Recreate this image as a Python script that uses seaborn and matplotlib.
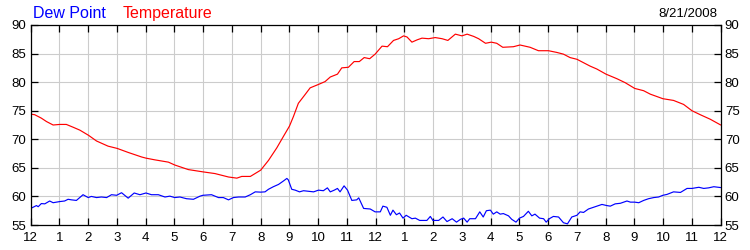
import matplotlib
matplotlib.use("Agg")
import matplotlib.pyplot as plt
import seaborn as sns
import pandas as pd

# Temperature (hours since midnight, deg F)
temp_hours = [0.00, 0.14, 0.37, 0.55, 0.78, 1.01, 1.24, 1.48, 1.71, 2.01, 2.29, 2.69, 3.01,
              3.39, 3.86, 4.01, 4.32, 4.79, 5.01, 5.48, 5.99, 6.41, 6.88, 7.17, 7.34, 7.64,
              8.00, 8.27, 8.56, 8.79, 9.00, 9.14, 9.31, 9.54, 9.72, 10.01, 10.24, 10.42,
              10.67, 10.82, 11.05, 11.25, 11.43, 11.60, 11.79, 11.98, 12.22, 12.41, 12.62,
              12.80, 12.97, 13.09, 13.26, 13.44, 13.61, 13.84, 14.07, 14.31, 14.51, 14.77,
              15.00, 15.18, 15.41, 15.58, 15.82, 16.02, 16.21, 16.42, 16.79, 17.02, 17.37,
              17.66, 18.01, 18.30, 18.53, 18.76, 19.00, 19.23, 19.46, 19.69, 20.01, 20.39,
              20.68, 21.01, 21.32, 21.55, 21.99, 22.36, 22.71, 23.00, 23.29, 23.64, 24.00]
temp_values = [74.4, 74.3, 73.7, 73.1, 72.5, 72.6, 72.6, 72.1, 71.6, 70.7, 69.7, 68.8, 68.4,
               67.7, 66.9, 66.7, 66.4, 66.0, 65.5, 64.7, 64.3, 64.0, 63.4, 63.2, 63.5, 63.5,
               64.6, 66.3, 68.5, 70.5, 72.3, 74.0, 76.3, 77.8, 79.0, 79.6, 80.1, 80.9,
               81.4, 82.5, 82.6, 83.6, 83.6, 84.3, 84.1, 84.9, 86.3, 86.2, 87.3,
               87.6, 88.1, 87.9, 87.0, 87.4, 87.7, 87.6, 87.8, 87.6, 87.3, 88.4,
               88.1, 88.4, 88.0, 87.6, 86.8, 87.0, 86.8, 86.1, 86.2, 86.5, 86.1,
               85.5, 85.5, 85.2, 84.9, 84.3, 84.0, 83.4, 82.8, 82.3, 81.4, 80.6,
               79.9, 78.9, 78.5, 77.9, 77.1, 76.8, 76.1, 75.0, 74.3, 73.5, 72.5]

# Dew point (hours since midnight, deg F)
dew_hours = [0.00, 0.08, 0.20, 0.26, 0.37, 0.49, 0.66, 0.78, 1.01, 1.18, 1.30, 1.42, 1.59,
             1.82, 2.00, 2.11, 2.29, 2.46, 2.64, 2.81, 2.99, 3.16, 3.39, 3.60, 3.80, 4.01,
             4.20, 4.44, 4.67, 4.84, 5.01, 5.19, 5.42, 5.66, 5.89, 5.99, 6.29, 6.53, 6.70,
             6.88, 7.05, 7.23, 7.46, 7.64, 7.81, 8.00, 8.15, 8.27, 8.44, 8.62, 8.79, 8.91,
             8.96, 9.08, 9.20, 9.35, 9.49, 9.66, 9.84, 10.01, 10.18, 10.32, 10.42, 10.56,
             10.67, 10.76, 10.90, 11.02, 11.17, 11.34, 11.41, 11.58, 11.81, 11.98, 12.16,
             12.25, 12.39, 12.51, 12.60, 12.72, 12.83, 12.95, 13.06, 13.26, 13.38, 13.53,
             13.78, 13.90, 13.99, 14.19, 14.34, 14.48, 14.66, 14.81, 14.95, 15.06, 15.18,
             15.27, 15.47, 15.62, 15.74, 15.85, 15.99, 16.09, 16.21, 16.33, 16.44, 16.62,
             16.73, 16.88, 17.00, 17.14, 17.31, 17.43, 17.54, 17.70, 17.84, 17.93, 18.04,
             18.18, 18.36, 18.53, 18.67, 18.82, 19.00, 19.11, 19.23, 19.40, 19.58, 19.70,
             19.87, 20.04, 20.16, 20.33, 20.51, 20.74, 20.86, 21.01, 21.15, 21.32, 21.49,
             21.67, 21.84, 21.99, 22.13, 22.36, 22.60, 22.83, 23.00, 23.24, 23.41, 23.58,
             23.76, 24.00]
dew_values = [57.9, 58.1, 58.4, 58.2, 58.75, 58.7, 59.2, 58.9, 59.1, 59.2, 59.5, 59.4, 59.3,
              60.3, 59.8, 60.0, 59.8, 59.9, 59.8, 60.3, 60.2, 60.65, 59.7, 60.6, 60.3, 60.6,
              60.3, 60.3, 59.9, 60.05, 59.8, 59.9, 59.6, 59.5, 60.05, 60.2, 60.3, 59.8, 59.8,
              59.4, 59.8, 59.9, 59.9, 60.3, 60.8, 60.75, 60.8, 61.25, 61.7, 62.1, 62.7, 63.15,
              62.9, 61.25, 61.1, 60.8, 61.0, 60.9, 60.8, 61.1, 61.0, 61.5, 60.8, 61.1,
              61.4, 60.8, 61.85, 61.1, 59.3, 59.4, 59.75, 57.9, 57.8, 57.3, 57.3,
              58.3, 58.1, 56.7, 57.6, 56.8, 57.1, 56.2, 56.7, 56.1, 56.2, 55.8,
              55.8, 56.5, 55.8, 55.8, 56.4, 55.6, 56.1, 55.5, 56.0, 56.2, 55.5,
              56.1, 56.1, 57.3, 56.4, 57.5, 57.6, 56.9, 57.3, 56.9, 57.0, 56.6,
              56.0, 55.5, 56.2, 56.5, 57.4, 56.6, 56.9, 56.2, 56.1, 55.5, 56.1,
              56.5, 56.4, 55.4, 55.2, 56.4, 56.7, 57.3, 57.2, 57.8, 58.1, 58.3,
              58.6, 58.4, 58.3, 58.7, 58.8, 59.2, 59.0, 59.0, 58.9, 59.3, 59.6,
              59.8, 59.9, 60.2, 60.35, 60.8, 60.7, 61.4, 61.4, 61.6, 61.4, 61.5,
              61.7, 61.55]

x_ticks = list(range(0, 25))
x_tick_labels = ["12", "1", "2", "3", "4", "5", "6", "7", "8", "9", "10", "11",
                 "12", "1", "2", "3", "4", "5", "6", "7", "8", "9", "10", "11", "12"]
y_ticks = [55, 60, 65, 70, 75, 80, 85, 90]
date_label = "8/21/2008"

sns.set_theme(style="white")
plt.rcParams["font.family"] = ["Liberation Sans", "DejaVu Sans"]

temp_df = pd.DataFrame({"hour": temp_hours, "value": temp_values})
dew_df = pd.DataFrame({"hour": dew_hours, "value": dew_values})

fig = plt.figure(figsize=(7.5, 2.5), dpi=100)
ax = fig.add_axes([30.7 / 750, 0.1, 690 / 750, 0.8])

sns.lineplot(data=temp_df, x="hour", y="value", ax=ax, color="#ff0000", linewidth=0.85)
sns.lineplot(data=dew_df, x="hour", y="value", ax=ax, color="#0000ff", linewidth=0.85)

ax.set_xlim(0, 24)
ax.set_ylim(55, 90)
ax.set_xticks(x_ticks)
ax.set_xticklabels(x_tick_labels)
ax.set_yticks(y_ticks)
ax.set_xlabel("")
ax.set_ylabel("")
ax.grid(True, color="#cccccc", linewidth=0.8)
ax.set_axisbelow(True)
for s in ax.spines.values():
    s.set_color("black")
    s.set_linewidth(0.9)
ax.tick_params(axis="both", which="major", direction="in", length=5, width=0.9,
               color="black", labelsize=9.5, labelcolor="black",
               top=True, right=True, left=True, bottom=True,
               labelleft=True, labelright=True)
ax.tick_params(axis="x", pad=5)
ax.tick_params(axis="y", pad=3)

fig.text(33 / 750, 1 - 18 / 250, "Dew Point", color="#0000ff", fontsize=11.5,
         ha="left", va="baseline")
fig.text(123 / 750, 1 - 18 / 250, "Temperature", color="#ff0000", fontsize=11.5,
         ha="left", va="baseline")
fig.text(717 / 750, 1 - 17 / 250, date_label, color="black", fontsize=9.5,
         ha="right", va="baseline")

fig.savefig("out.png", dpi=100)
